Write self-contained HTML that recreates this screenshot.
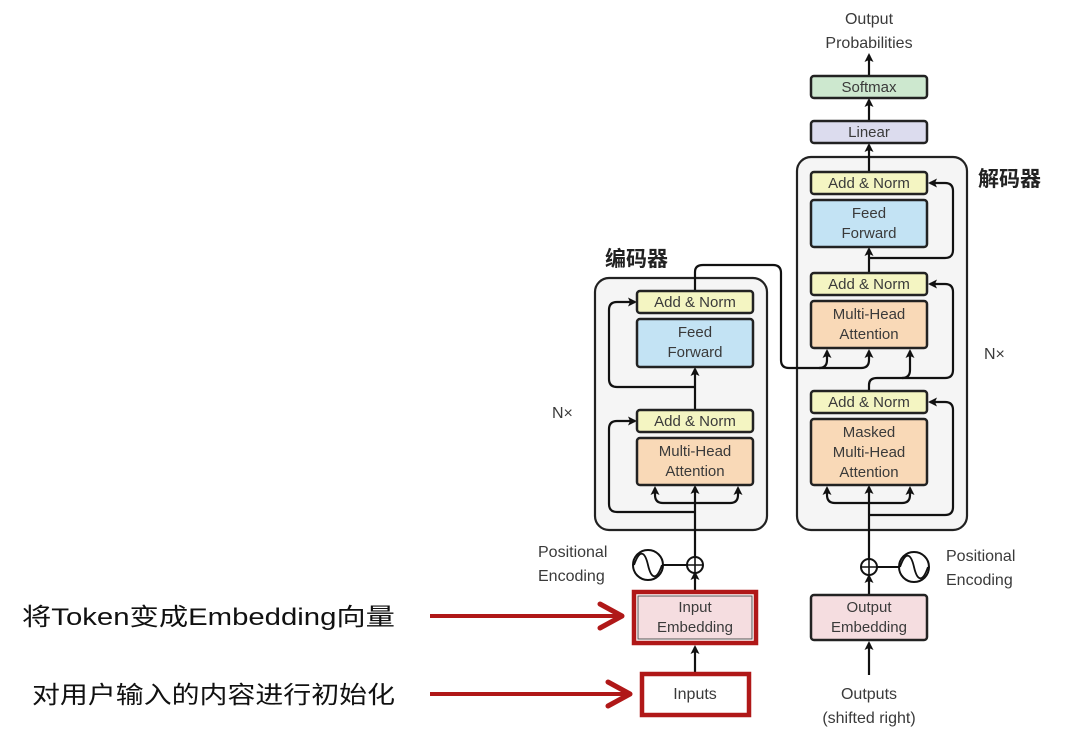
<!DOCTYPE html>
<html><head><meta charset="utf-8"><style>
html,body{margin:0;padding:0;background:#fff;}
svg{display:block;}
text{font-family:"Liberation Sans","Noto Sans CJK SC",sans-serif;fill:#3a3a3a;}
.bx{stroke:#222;stroke-width:2.5;}
.ln{stroke:#111;stroke-width:2.2;fill:none;}
.t{font-size:15px;text-anchor:middle;}
</style></head><body>
<svg width="1080" height="739" viewBox="0 0 1080 739" xmlns="http://www.w3.org/2000/svg">
<defs>
<marker id="a" markerWidth="9" markerHeight="9" refX="7" refY="4.5" orient="auto" markerUnits="userSpaceOnUse"><path d="M0,0 L9,4.5 L0,9 L2,4.5 z" fill="#111"/></marker>
<marker id="r" markerWidth="30" markerHeight="30" refX="26" refY="15" orient="auto" markerUnits="userSpaceOnUse"><path d="M4,3 L26,15 L4,27" fill="none" stroke="#b01818" stroke-width="5" stroke-linecap="round" stroke-linejoin="round"/></marker>
</defs>

<!-- containers -->
<rect x="595" y="278" width="172" height="252" rx="14" fill="#f5f5f5" stroke="#222" stroke-width="2.2"/>
<rect x="797" y="157" width="170" height="373" rx="14" fill="#f5f5f5" stroke="#222" stroke-width="2.2"/>
<text x="605" y="266" style="font-size:21px;font-weight:bold;fill:#222;">编码器</text>
<text x="552" y="418" style="font-size:16px;">N×</text>
<text x="978" y="186" style="font-size:21px;font-weight:bold;fill:#222;">解码器</text>
<text x="984" y="359" style="font-size:16px;">N×</text>

<!-- encoder lines -->
<path class="ln" d="M695,590 L695,573" marker-end="url(#a)"/>
<path class="ln" d="M695,672 L695,647" marker-end="url(#a)"/>
<path class="ln" d="M695,557 L695,487" marker-end="url(#a)"/>
<path class="ln" d="M695,503 L663,503 Q655,503 655,495 L655,488" marker-end="url(#a)"/>
<path class="ln" d="M695,503 L730,503 Q738,503 738,495 L738,488" marker-end="url(#a)"/>
<path class="ln" d="M695,512 L617,512 Q609,512 609,504 L609,429 Q609,421 617,421 L635,421" marker-end="url(#a)"/>
<path class="ln" d="M695,410 L695,369" marker-end="url(#a)"/>
<path class="ln" d="M695,387 L617,387 Q609,387 609,379 L609,310 Q609,302 617,302 L635,302" marker-end="url(#a)"/>
<path class="ln" d="M695,291 L695,272 Q695,265 703,265 L773,265 Q781,265 781,273 L781,360 Q781,368 789,368 L819,368 Q827,368 827,360 L827,351" marker-end="url(#a)"/>
<path class="ln" d="M819,368 L861,368 Q869,368 869,360 L869,351" marker-end="url(#a)"/>

<!-- decoder lines -->
<path class="ln" d="M869,675 L869,643" marker-end="url(#a)"/>
<path class="ln" d="M869,595 L869,576" marker-end="url(#a)"/>
<path class="ln" d="M869,559 L869,487" marker-end="url(#a)"/>
<path class="ln" d="M869,503 L835,503 Q827,503 827,495 L827,488" marker-end="url(#a)"/>
<path class="ln" d="M869,503 L902,503 Q910,503 910,495 L910,488" marker-end="url(#a)"/>
<path class="ln" d="M869,515 L945,515 Q953,515 953,507 L953,410 Q953,402 945,402 L930,402" marker-end="url(#a)"/>
<path class="ln" d="M869,391 L869,385 Q869,378 877,378 L902,378 Q910,378 910,370 L910,351" marker-end="url(#a)"/>
<path class="ln" d="M902,378 L945,378 Q953,378 953,370 L953,292 Q953,284 945,284 L930,284" marker-end="url(#a)"/>
<path class="ln" d="M869,273 L869,249" marker-end="url(#a)"/>
<path class="ln" d="M869,258 L945,258 Q953,258 953,250 L953,191 Q953,183 945,183 L930,183" marker-end="url(#a)"/>
<path class="ln" d="M869,172 L869,145" marker-end="url(#a)"/>
<path class="ln" d="M869,121 L869,100" marker-end="url(#a)"/>
<path class="ln" d="M869,76 L869,55" marker-end="url(#a)"/>

<!-- encoder boxes -->
<rect class="bx" x="637" y="291" width="116" height="22" rx="3" fill="#f4f5c2"/>
<text class="t" x="695" y="307">Add &amp; Norm</text>
<rect class="bx" x="637" y="319" width="116" height="48" rx="3" fill="#c3e3f4"/>
<text class="t" x="695" y="337">Feed</text><text class="t" x="695" y="357">Forward</text>
<rect class="bx" x="637" y="410" width="116" height="22" rx="3" fill="#f4f5c2"/>
<text class="t" x="695" y="426">Add &amp; Norm</text>
<rect class="bx" x="637" y="438" width="116" height="47" rx="3" fill="#f9d9b7"/>
<text class="t" x="695" y="456">Multi-Head</text><text class="t" x="695" y="476">Attention</text>
<circle cx="695" cy="565" r="8" fill="#fff" stroke="#111" stroke-width="2"/>
<path d="M687,565 H703 M695,557 V573" stroke="#111" stroke-width="1.6"/>
<line x1="662" y1="565" x2="687" y2="565" stroke="#111" stroke-width="2"/>
<circle cx="648" cy="565" r="15" fill="#fff" stroke="#111" stroke-width="2"/>
<path d="M634,565 C640,548 645,552 648,565 C651,578 656,582 662,565" fill="none" stroke="#111" stroke-width="1.8"/>
<text x="538" y="557" style="font-size:16px;">Positional</text>
<text x="538" y="581" style="font-size:16px;">Encoding</text>
<rect x="634" y="592" width="122" height="51" fill="none" stroke="#b01818" stroke-width="4.5"/>
<rect x="638" y="596" width="114" height="43" fill="#f5dde0" stroke="#555" stroke-width="1"/>
<text class="t" x="695" y="612">Input</text><text class="t" x="695" y="632">Embedding</text>
<rect x="642" y="674" width="107" height="41" fill="#fff" stroke="#b01818" stroke-width="4.5"/>
<text class="t" x="695" y="699" style="font-size:16px;">Inputs</text>

<!-- decoder boxes -->
<rect class="bx" x="811" y="172" width="116" height="22" rx="3" fill="#f4f5c2"/>
<text class="t" x="869" y="188">Add &amp; Norm</text>
<rect class="bx" x="811" y="200" width="116" height="47" rx="3" fill="#c3e3f4"/>
<text class="t" x="869" y="218">Feed</text><text class="t" x="869" y="238">Forward</text>
<rect class="bx" x="811" y="273" width="116" height="22" rx="3" fill="#f4f5c2"/>
<text class="t" x="869" y="289">Add &amp; Norm</text>
<rect class="bx" x="811" y="301" width="116" height="47" rx="3" fill="#f9d9b7"/>
<text class="t" x="869" y="319">Multi-Head</text><text class="t" x="869" y="339">Attention</text>
<rect class="bx" x="811" y="391" width="116" height="22" rx="3" fill="#f4f5c2"/>
<text class="t" x="869" y="407">Add &amp; Norm</text>
<rect class="bx" x="811" y="419" width="116" height="66" rx="3" fill="#f9d9b7"/>
<text class="t" x="869" y="437">Masked</text><text class="t" x="869" y="457">Multi-Head</text><text class="t" x="869" y="477">Attention</text>
<rect class="bx" x="811" y="121" width="116" height="22" rx="3" fill="#dcdcee"/>
<text class="t" x="869" y="137">Linear</text>
<rect class="bx" x="811" y="76" width="116" height="22" rx="3" fill="#cde8cf"/>
<text class="t" x="869" y="92">Softmax</text>
<text class="t" x="869" y="24" style="font-size:16px;">Output</text>
<text class="t" x="869" y="48" style="font-size:16px;">Probabilities</text>
<circle cx="869" cy="567" r="8" fill="#fff" stroke="#111" stroke-width="2"/>
<path d="M861,567 H877 M869,559 V575" stroke="#111" stroke-width="1.6"/>
<line x1="877" y1="567" x2="900" y2="567" stroke="#111" stroke-width="2"/>
<circle cx="914" cy="567" r="15" fill="#fff" stroke="#111" stroke-width="2"/>
<path d="M900,567 C906,550 911,554 914,567 C917,580 922,584 928,567" fill="none" stroke="#111" stroke-width="1.8"/>
<text x="946" y="561" style="font-size:16px;">Positional</text>
<text x="946" y="585" style="font-size:16px;">Encoding</text>
<rect class="bx" x="811" y="595" width="116" height="45" rx="3" fill="#f5dde0"/>
<text class="t" x="869" y="612">Output</text><text class="t" x="869" y="632">Embedding</text>
<text class="t" x="869" y="699" style="font-size:16px;">Outputs</text>
<text class="t" x="869" y="723" style="font-size:16px;">(shifted right)</text>

<!-- Annotations -->
<line x1="430" y1="616" x2="622" y2="616" stroke="#b01818" stroke-width="4" marker-end="url(#r)"/>
<line x1="430" y1="694" x2="630" y2="694" stroke="#b01818" stroke-width="4" marker-end="url(#r)"/>
<text x="22" y="625" textLength="373" lengthAdjust="spacingAndGlyphs" style="font-size:24px;fill:#111;">将Token变成Embedding向量</text>
<text x="32" y="703" textLength="363" lengthAdjust="spacingAndGlyphs" style="font-size:24px;fill:#111;">对用户输入的内容进行初始化</text>
</svg>
</body></html>
